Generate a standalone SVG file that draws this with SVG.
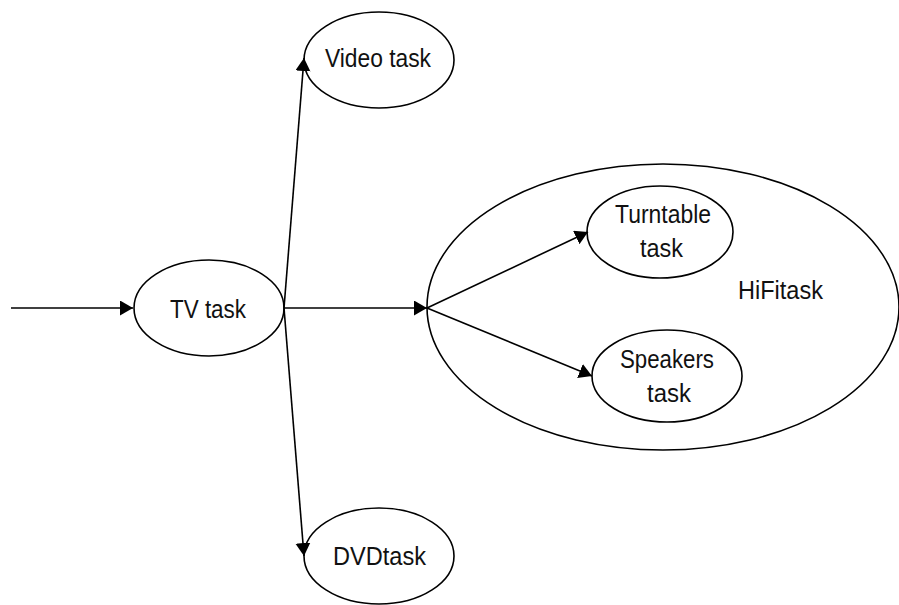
<svg xmlns="http://www.w3.org/2000/svg" width="899" height="605" viewBox="0 0 899 605">
<style>
.n{fill:#fff;stroke:#000;stroke-width:1.6}
.h{fill:none;stroke:#000;stroke-width:1.6}
.t{font-family:"Liberation Sans",Arial,sans-serif;font-size:26px;fill:#111}
.c line{stroke:#000;stroke-width:1.6}
</style>
<defs>
<marker id="a" markerUnits="userSpaceOnUse" markerWidth="14" markerHeight="16" refX="13" refY="7.5" orient="auto">
<path d="M0,0 L13,7.5 L0,15 z" fill="#000"/>
</marker>
</defs>
<g id="hifi">
<ellipse class="h" cx="663" cy="307" rx="236" ry="143"/>
<text class="t" x="738" y="299" textLength="85" lengthAdjust="spacingAndGlyphs">HiFitask</text>
</g>
<g id="tv">
<ellipse class="n" cx="209" cy="308" rx="75" ry="48"/>
<text class="t" x="170" y="318" textLength="76" lengthAdjust="spacingAndGlyphs">TV task</text>
</g>
<g id="video">
<ellipse class="n" cx="379" cy="60" rx="75" ry="48"/>
<text class="t" x="325" y="67" textLength="106" lengthAdjust="spacingAndGlyphs">Video task</text>
</g>
<g id="dvd">
<ellipse class="n" cx="379" cy="556" rx="75" ry="48"/>
<text class="t" x="333" y="565" textLength="93" lengthAdjust="spacingAndGlyphs">DVDtask</text>
</g>
<g id="turntable">
<ellipse class="n" cx="660" cy="232" rx="73" ry="46"/>
<text class="t" x="615" y="223" textLength="96" lengthAdjust="spacingAndGlyphs">Turntable</text>
<text class="t" x="640" y="257" textLength="43" lengthAdjust="spacingAndGlyphs">task</text>
</g>
<g id="speakers">
<ellipse class="n" cx="667" cy="376" rx="75" ry="46"/>
<text class="t" x="620" y="368" textLength="94" lengthAdjust="spacingAndGlyphs">Speakers</text>
<text class="t" x="647" y="402" textLength="44" lengthAdjust="spacingAndGlyphs">task</text>
</g>
<g id="connectors" class="c">
<line x1="11" y1="308" x2="133" y2="308" marker-end="url(#a)"/>
<line x1="284" y1="308" x2="304" y2="58" marker-end="url(#a)"/>
<line x1="284" y1="308" x2="304" y2="556" marker-end="url(#a)"/>
<line x1="284" y1="308" x2="427" y2="308" marker-end="url(#a)"/>
<line x1="427" y1="308" x2="588" y2="232" marker-end="url(#a)"/>
<line x1="427" y1="308" x2="592" y2="376" marker-end="url(#a)"/>
</g>
</svg>
